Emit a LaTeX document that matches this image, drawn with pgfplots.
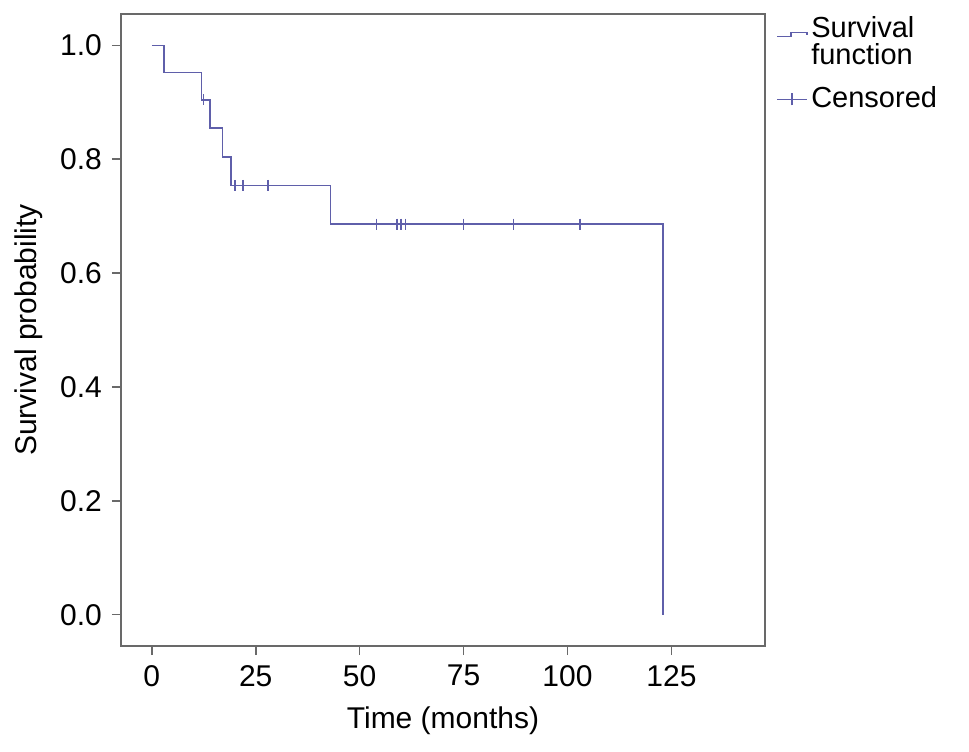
\documentclass[border=0pt]{standalone}
\usepackage{fontspec}
\setmainfont{Liberation Sans}
\usepackage{pgfplots}
\pgfplotsset{compat=1.18}
\usetikzlibrary{calc}
\definecolor{kmline}{RGB}{95,95,170}
\definecolor{axgray}{RGB}{105,105,105}

\begin{document}
\fontsize{30}{34}\selectfont
\begin{tikzpicture}
\begin{axis}[
  scale only axis,
  width=644pt, height=632pt,
  xmin=-7.4, xmax=147.5,
  ymin=-0.055, ymax=1.055,
  xtick={0,25,50,75,100,125},
  ytick={0,0.2,0.4,0.6,0.8,1.0},
  /pgf/number format/assume math mode=true,
  yticklabel style={/pgf/number format/.cd, fixed, fixed zerofill, precision=1},
  tick align=outside,
  xtick pos=left, ytick pos=left,
  major tick length=9pt,
  axis line style={axgray, line width=2pt},
  tick style={axgray, line width=1.6pt},
  xlabel={Time (months)},
  ylabel={Survival probability},
  ylabel shift=-3pt,
  legend style={at={(rel axis cs:1,1)}, anchor=north west, draw=none, fill=none,
    xshift=8pt, yshift=2pt, font=\fontsize{29}{27}\selectfont,
    nodes={align=left, inner xsep=3.5pt, inner ysep=2pt}, row sep=14pt},
  legend cell align=left,
]
\coordinate (bl) at (rel axis cs:0,0);
\coordinate (tr) at (rel axis cs:1,1);

% Kaplan-Meier step curve
\addplot[kmline, line width=1.6pt, const plot,
  legend image code/.code={\draw[kmline, line width=1.6pt] (0pt,6pt) -- (14pt,6pt) -- (14pt,10pt) -- (30pt,10pt) -- (30pt,7pt);}]
coordinates {
  (0,1.000) (3,0.952) (12,0.904) (14,0.855) (17,0.804)
  (19,0.754) (43,0.686) (123,0.000)
};
\addlegendentry{Survival\\function}

% censored cases
\addplot[kmline, only marks, mark=|, mark size=5.5pt, mark options={line width=1.5pt},
  legend image code/.code={\draw[kmline, line width=1.5pt] (0pt,0pt) -- (30pt,0pt);
    \draw[kmline, line width=1.5pt] (15pt,-6pt) -- (15pt,6pt);}]
coordinates {
  (12.4,0.904)
  (20,0.754) (22,0.754) (28,0.754)
  (54,0.686) (59,0.686) (60,0.686) (61,0.686)
  (75,0.686) (87,0.686) (103,0.686)
};
\addlegendentry{Censored}
\end{axis}
\pgfresetboundingbox
\path[use as bounding box] ($(bl)+(-121pt,-106pt)$) rectangle ($(tr)+(204pt,14pt)$);
\end{tikzpicture}
\end{document}
